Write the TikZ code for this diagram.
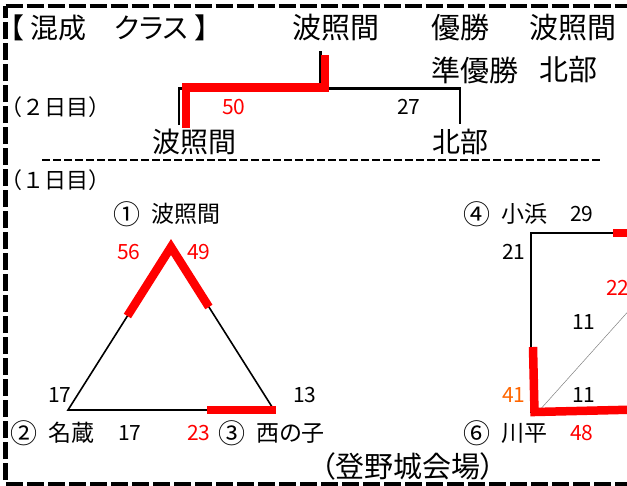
\documentclass[tikz,border=0pt]{standalone}
\usepackage{tkz-euclide}
\usepackage{fontspec}
\setmainfont{Noto Sans CJK JP}[RawFeature=+palt]
\newfontfamily\jpwide{Noto Sans CJK JP}
\newcommand\fsz[1]{\fontsize{#1}{#1}\selectfont}
\newcommand\seed[1]{{\fsz{27}\raisebox{-1.5pt}{#1}}\hspace{11.5pt}}
\definecolor{winred}{RGB}{255,0,0}
\definecolor{winorange}{RGB}{255,102,0}

\begin{document}
\begin{tikzpicture}[x=1pt,y=-1pt,
    lbl/.style={anchor=west,inner sep=0pt,font=\fsz{21}},
    head/.style={lbl,font=\fsz{29}},
    team/.style={lbl,font=\fsz{23}},
    redscore/.style={lbl,text=winred},
    game/.style={line width=1.6pt,line cap=butt},
    won/.style={winred,line width=8.5pt,line join=miter,line cap=butt},
    frame/.style={line width=4.5pt,dash pattern=on 17pt off 4pt}]
        \useasboundingbox (0,0) rectangle (627,485);%

        % frame and day separator
        \tkzDefPoint(5.5,6){F_1} \tkzDefPoint(720,6){F_2}%
        \tkzDefPoint(720,484){F_3} \tkzDefPoint(5.5,484){F_4}%
        \draw[frame] (F_1) -- (F_2) -- (F_3) -- (F_4) -- cycle;%
        \tkzDefPoint(42,160){S_1} \tkzDefPoint(601,160){S_2}%
        \draw[line width=2.4pt,dash pattern=on 8pt off 3pt] (S_1) -- (S_2);%

        % texts
        \node (title) [lbl,font=\fsz{28}] at (10,28) {【 混成　クラス 】};%
        \node (final) [head] at (292,28) {波照間};%
        \node (win) [head] at (431,28) {優勝};%
        \node (winner) [head] at (529,28) {波照間};%
        \node (second) [head] at (431,70) {準優勝};%
        \node (runner) [head] at (539,70) {北部};%
        \node (day2) [lbl,font=\fsz{22}\jpwide] at (0,107) {（２日目）};%
        \node (day1) [lbl,font=\fsz{22}\jpwide] at (0,180) {（１日目）};%
        \node (venue) [lbl,font=\fsz{29}] at (321,466) {（登野城会場）};%

        % day 2
        \tkzDefPoint(179,125){A} \tkzDefPoint(179,88.5){B}%
        \tkzDefPoint(460,88.5){C} \tkzDefPoint(460,124){D}%
        \tkzDefPoint(320.5,51){E} \tkzDefPoint(320.5,88.5){M}%
        \draw[game,line width=2.4pt] (A) -- (B) -- (C) -- (D) (E) -- (M);%
        \tkzDefPoint(186,128){W_1} \tkzDefPoint(186,87.5){W_2}%
        \tkzDefPoint(325,87.5){W_3} \tkzDefPoint(325,55){W_4}%
        \draw[won] (W_1) -- (W_2) -- (W_3) -- (W_4);%
        \node (finA) [lbl,font=\fsz{28}] at (152,142) {波照間};%
        \node (finB) [lbl,font=\fsz{28}] at (432,142) {北部};%
        \node (s50) [redscore] at (222,107) {50};%
        \node (s27) [lbl] at (397,107) {27};%

        % day 1, block 1-2-3
        \tkzDefPoint(171,247){T_1} \tkzDefPoint(68,410){T_2} \tkzDefPoint(274,410){T_3}%
        \tkzDefPoint(127.4,316){T_12} \tkzDefPoint(208.9,307){T_13} \tkzDefPoint(207,410){T_32}%
        \draw[game] (T_1) -- (T_2) -- (T_3) -- cycle;%
        \draw[won,miter limit=20] (T_12) -- (T_1) -- (T_13);%
        \draw[won] (T_32) -- ($(T_3)+(2,0)$);%
        \node (team1) [team] at (113,214) {\seed{①}波照間};%
        \node (team2) [team] at (10,433) {\seed{②}名蔵};%
        \node (team3) [team] at (218,433) {\seed{③}西の子};%
        \node (s56) [redscore] at (117,252) {56};%
        \node (s49) [redscore] at (187,252) {49};%
        \node (s17a) [lbl] at (48,395) {17};%
        \node (s13) [lbl] at (293,395) {13};%
        \node (s17b) [lbl] at (118,433) {17};%
        \node (s23) [redscore] at (187,433) {23};%

        % day 1, block 4-5-6
        \tkzDefPoint(531,233){Q_4} \tkzDefPoint(531,413){Q_6}%
        \tkzDefPoint(660,233){Q_5} \tkzDefPoint(538,412){Q_d} \tkzDefPoint(650,287){Q_e}%
        \draw[game,line width=2pt] (Q_5) -- (Q_4) -- (Q_6);%
        \draw[gray,line width=0.5pt] (Q_d) -- (Q_e);%
        \tkzDefPoint(613,233){V_1} \tkzDefPoint(660,233){V_2}%
        \tkzDefPoint(533,347){V_3} \tkzDefPoint(534.5,412){V_4} \tkzDefPoint(660,409){V_5}%
        \draw[won,line width=8pt] (V_1) -- (V_2);%
        \draw[won] (V_3) -- (V_4) -- (V_5);%
        \node (team4) [team] at (463,214) {\seed{④}小浜};%
        \node (team6) [team] at (463,433) {\seed{⑥}川平};%
        \node (s29) [lbl] at (570,214) {29};%
        \node (s21) [lbl] at (502,252) {21};%
        \node (s22) [redscore] at (606,288) {22};%
        \node (s11a) [lbl] at (572,322) {11};%
        \node (s41) [lbl,text=winorange] at (502,395) {41};%
        \node (s11b) [lbl] at (572,395) {11};%
        \node (s48) [redscore] at (570,433) {48};%
      \end{tikzpicture}
\end{document}
